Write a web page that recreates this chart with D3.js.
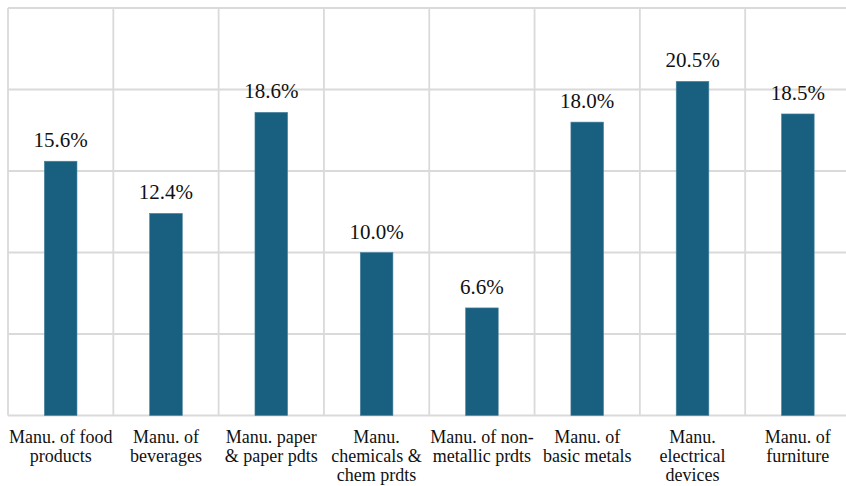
<!DOCTYPE html>
<html>
<head>
<meta charset="utf-8">
<script src="https://cdn.jsdelivr.net/npm/d3@7"></script>
<style>
  body { margin: 0; background: #fff; }
  svg { display: block; }
  text { font-family: "Times New Roman", "Liberation Serif", Times, serif; }
</style>
</head>
<body>
<svg id="chart" width="846" height="486"></svg>
<script>
    // chart data
    var categories = ['food', 'beverages', 'paper', 'chemicals', 'nonmetallic', 'basicmetals', 'electrical', 'furniture'];
    var labelLines = [
      ['Manu. of food', 'products'],
      ['Manu. of', 'beverages'],
      ['Manu. paper', '& paper pdts'],
      ['Manu.', 'chemicals &', 'chem prdts'],
      ['Manu. of non-', 'metallic prdts'],
      ['Manu. of', 'basic metals'],
      ['Manu.', 'electrical', 'devices'],
      ['Manu. of', 'furniture']
    ];
    var values = [15.6, 12.4, 18.6, 10.0, 6.6, 18.0, 20.5, 18.5];
    var yTicks = [0, 5, 10, 15, 20, 25];

    var svg = d3.select('#chart');
    var plotLeft = 8, plotRight = 850.5, plotTop = 8, plotBottom = 415.5;

    var x = d3.scaleBand()
      .domain(categories)
      .range([plotLeft, plotRight])
      .paddingInner(0)
      .paddingOuter(0);

    var y = d3.scaleLinear()
      .domain([0, 25])
      .range([plotBottom, plotTop]);

    var barWidth = x.bandwidth() * 0.31;

    function mid(i) { return x(categories[i]) + x.bandwidth() / 2; }

    // horizontal gridlines
    svg.append('g')
      .attr('class', 'hgrid')
      .selectAll('line')
      .data(yTicks)
      .enter().append('line')
        .attr('x1', plotLeft)
        .attr('x2', plotRight)
        .attr('y1', function(d) { return y(d); })
        .attr('y2', function(d) { return y(d); })
        .attr('stroke', '#dadada')
        .attr('stroke-width', 1.8);

    // vertical gridlines at category boundaries
    var bounds = categories.map(function(c) { return x(c); }).concat([plotRight]);
    svg.append('g')
      .attr('class', 'vgrid')
      .selectAll('line')
      .data(bounds)
      .enter().append('line')
        .attr('x1', function(d) { return d; })
        .attr('x2', function(d) { return d; })
        .attr('y1', y(25))
        .attr('y2', y(0))
        .attr('stroke', '#dadada')
        .attr('stroke-width', 1.8);

    // bars
    svg.append('g')
      .attr('class', 'bars')
      .selectAll('rect')
      .data(values)
      .enter().append('rect')
        .attr('x', function(d, i) { return mid(i) - barWidth / 2; })
        .attr('y', function(d) { return y(d); })
        .attr('width', barWidth)
        .attr('height', function(d) { return y(0) - y(d); })
        .attr('fill', '#185f80')
        .attr('stroke', '#4d85a0')
        .attr('stroke-width', 0.6);

    // value labels
    svg.append('g')
      .attr('class', 'values')
      .selectAll('text')
      .data(values)
      .enter().append('text')
        .attr('x', function(d, i) { return mid(i); })
        .attr('y', function(d) { return y(d) - 14; })
        .attr('text-anchor', 'middle')
        .attr('font-size', 21)
        .attr('fill', '#111')
        .text(function(d) { return d.toFixed(1) + '%'; });

    // category labels
    var cat = svg.append('g')
      .attr('class', 'categories')
      .selectAll('text')
      .data(labelLines)
      .enter().append('text')
        .attr('x', function(d, i) { return mid(i); })
        .attr('y', 443)
        .attr('text-anchor', 'middle')
        .attr('font-size', 18)
        .attr('fill', '#111');

    cat.each(function(lines, i) {
      var t = d3.select(this);
      lines.forEach(function(line, j) {
        t.append('tspan')
          .attr('x', mid(i))
          .attr('dy', j === 0 ? 0 : 19.2)
          .text(line);
      });
    });
</script>
</body>
</html>
